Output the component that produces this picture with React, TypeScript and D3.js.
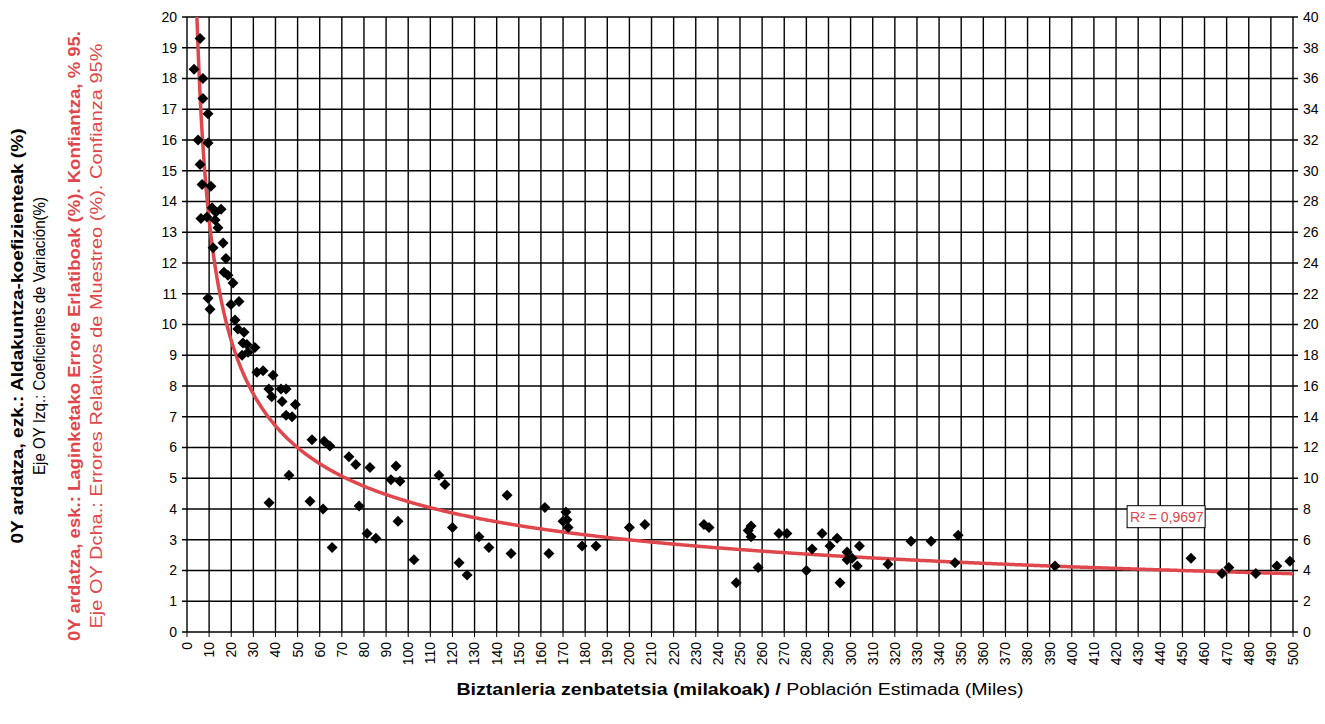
import * as d3 from "d3";

const popX = [3.2, 5.9, 7.2, 5, 9.5, 9.5, 7.2, 5.9, 6.8, 10.8, 6.3, 9, 11.3, 13, 15.4, 12.7, 14, 11.8, 16.3, 17.6, 16.7, 18.5, 20.8, 9.5, 10.4, 19.9, 23.5, 21.7, 23, 25.8, 25.3, 27.1, 24.9, 27.6, 30.7, 31.6, 34.4, 38.9, 37, 38.3, 42.5, 44.8, 43, 44.8, 47.5, 49, 37.1, 46.1, 56.5, 62, 64.6, 55.6, 61.5, 65.6, 73.2, 76.3, 82.7, 77.8, 81.4, 85.4, 92.2, 94.5, 96.3, 95.4, 102.6, 113.9, 116.6, 120, 123, 126.6, 132, 136.5, 144.7, 146.5, 161.8, 163.6, 171.3, 170, 171.8, 172.3, 178.6, 184.9, 200, 207, 233.7, 236, 248.3, 253.7, 255, 255, 258.2, 267.6, 271.2, 280, 282.6, 287.1, 290.7, 293.9, 295.2, 298.4, 298.4, 300.7, 303, 304, 316.9, 327.3, 336.4, 347.2, 348.6, 392.4, 453.9, 467.9, 471, 483.2, 492.7, 498.6];
const cvY = [18.3, 19.3, 18.0, 16.0, 15.9, 16.85, 17.35, 15.2, 14.55, 14.5, 13.45, 13.5, 13.8, 13.65, 13.75, 13.4, 13.15, 12.5, 12.65, 12.15, 11.7, 11.6, 11.35, 10.85, 10.5, 10.65, 10.75, 10.15, 9.85, 9.75, 9.4, 9.35, 9.0, 9.1, 9.25, 8.45, 8.5, 8.35, 7.9, 7.65, 7.9, 7.9, 7.5, 7.05, 7.0, 7.4, 4.2, 5.1, 6.25, 6.2, 6.05, 4.25, 4.0, 2.75, 5.7, 5.45, 5.35, 4.1, 3.2, 3.05, 4.95, 5.4, 4.9, 3.6, 2.35, 5.1, 4.8, 3.4, 2.25, 1.85, 3.1, 2.75, 4.45, 2.55, 4.05, 2.55, 3.9, 3.6, 3.65, 3.4, 2.8, 2.8, 3.4, 3.5, 3.5, 3.4, 1.6, 3.3, 3.45, 3.1, 2.1, 3.2, 3.2, 2.0, 2.7, 3.2, 2.8, 3.05, 1.6, 2.6, 2.35, 2.4, 2.15, 2.8, 2.2, 2.95, 2.95, 2.25, 3.15, 2.15, 2.4, 1.9, 2.1, 1.9, 2.15, 2.3];
// power trendline y = a * x^b
const fitA = 42.4;
const fitB = -0.5;
const rSquared = "0,9697";

const xTicks = d3.range(0, 501, 10);
const leftTicks = d3.range(0, 21, 1);
const rightTicks = d3.range(0, 41, 2);

const margin = { left: 187, top: 17, right: 32, bottom: 92 };
const W = 1325, H = 724;
const font = "'Liberation Sans', Arial, sans-serif";

export default function App() {
  const x = d3.scaleLinear().domain([0, 500]).range([margin.left, W - margin.right]);
  const y = d3.scaleLinear().domain([0, 20]).range([H - margin.bottom, margin.top]);
  const y2 = d3.scaleLinear().domain([0, 40]).range([H - margin.bottom, margin.top]);
  const pts = popX.map((v, i) => [v, cvY[i]] as [number, number]);
  const xStart = Math.pow(20 / fitA, 1 / fitB);
  const curve = d3.range(xStart, 500.01, 0.5).map((v) => [v, fitA * Math.pow(v, fitB)] as [number, number]);
  const line = d3.line<[number, number]>().x((d) => x(d[0])).y((d) => y(d[1])).curve(d3.curveBasis);
  const diamond = "M0,-5.5L5.5,0L0,5.5L-5.5,0Z";
  const cy = 336;
  const r2x = x(425), r2y = y(3.75);

  return (
    <svg width={W} height={H} style={{ position: "absolute", left: 0, top: 0, background: "#fff" }} fontFamily={font}>
      {xTicks.map((t) => (
        <line key={"gx" + t} x1={x(t)} x2={x(t)} y1={y(0)} y2={y(20)} stroke="#000" strokeWidth={1.4} />
      ))}
      {leftTicks.map((t) => (
        <line key={"gy" + t} x1={x(0) - 5} x2={x(500) + 5} y1={y(t)} y2={y(t)} stroke="#000" strokeWidth={1.4} />
      ))}
      {xTicks.map((t) => (
        <line key={"tx" + t} x1={x(t)} x2={x(t)} y1={y(0)} y2={y(0) + 5} stroke="#000" />
      ))}
      {leftTicks.map((t) => (
        <text key={"ly" + t} x={x(0) - 10} y={y(t)} dy="0.35em" textAnchor="end" fontSize={14}>{t}</text>
      ))}
      {rightTicks.map((t) => (
        <text key={"ry" + t} x={x(500) + 10} y={y2(t)} dy="0.35em" textAnchor="start" fontSize={14}>{t}</text>
      ))}
      {xTicks.map((t) => (
        <text key={"lx" + t} transform={`translate(${x(t)},${y(0) + 10}) rotate(-90)`} dy="0.35em" textAnchor="end" fontSize={14}>{t}</text>
      ))}
      <path d={line(curve) ?? ""} fill="none" stroke="#e0474c" strokeWidth={3.5} />
      {pts.map((p, i) => (
        <path key={i} d={diamond} transform={`translate(${x(p[0])},${y(p[1])})`} fill="#000" />
      ))}
      <rect x={r2x} y={r2y - 11} width={78} height={22} fill="#fff" stroke="#000" />
      <text x={r2x + 3} y={r2y} dy="0.35em" fontSize={14} fill="#e0474c">R² = {rSquared}</text>
      <g fontSize={16}>
        <text transform={`translate(23,${cy}) rotate(-90)`} textAnchor="middle" fontWeight="bold" textLength={415} lengthAdjust="spacingAndGlyphs">0Y ardatza, ezk.: Aldakuntza-koefizienteak (%)</text>
        <text transform={`translate(45,${cy}) rotate(-90)`} textAnchor="middle" textLength={278} lengthAdjust="spacingAndGlyphs">Eje OY Izq.: Coeficientes de Variación(%)</text>
        <text transform={`translate(80,${cy}) rotate(-90)`} textAnchor="middle" fontWeight="bold" fill="#e0474c" textLength={610} lengthAdjust="spacingAndGlyphs">0Y ardatza, esk.: Laginketako Errore Erlatiboak (%). Konfiantza, % 95.</text>
        <text transform={`translate(102,${cy}) rotate(-90)`} textAnchor="middle" fill="#e0474c" textLength={585} lengthAdjust="spacingAndGlyphs">Eje OY Dcha.: Errores Relativos de Muestreo (%). Confianza 95%</text>
        <text x={(x(0) + x(500)) / 2} y={695} textAnchor="middle" textLength={567} lengthAdjust="spacingAndGlyphs">
          <tspan fontWeight="bold">Biztanleria zenbatetsia (milakoak) / </tspan>
          <tspan>Población Estimada (Miles)</tspan>
        </text>
      </g>
    </svg>
  );
}
